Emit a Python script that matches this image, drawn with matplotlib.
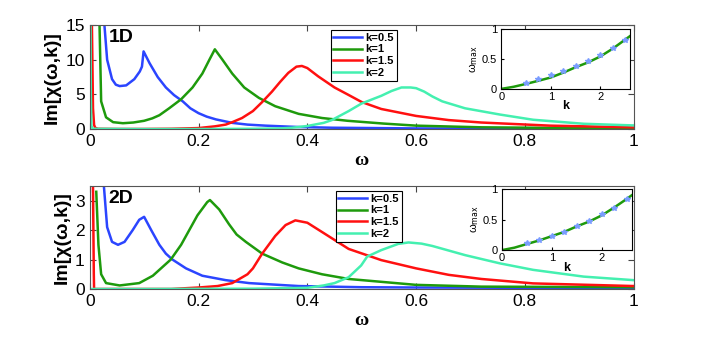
import matplotlib
matplotlib.use("Agg")
import matplotlib.pyplot as plt
import numpy as np

# ---- 1D panel data ----
w1_b = [0.027, 0.032, 0.041, 0.048, 0.055, 0.067, 0.082, 0.092, 0.096, 0.099, 0.11, 0.125, 0.14,
        0.155, 0.171, 0.185, 0.2, 0.215, 0.232, 0.262, 0.29, 0.323, 0.384, 0.445, 0.6, 0.8, 1.0]
v1_b = [15, 10, 7.2, 6.4, 6.2, 6.3, 7.2, 8.3, 9, 11.2, 9.5, 7.5, 6, 4.9, 4, 3.0, 2.3, 1.8, 1.4, 0.9,
        0.65, 0.5, 0.3, 0.2, 0.1, 0.07, 0.05]
w1_g = [0.018, 0.021, 0.03, 0.043, 0.061, 0.08, 0.1, 0.115, 0.128, 0.146, 0.168, 0.189, 0.207, 0.22,
        0.23, 0.244, 0.262, 0.284, 0.311, 0.341, 0.384, 0.427, 0.474, 0.54, 0.6, 0.72, 0.85, 1.0]
v1_g = [15, 4, 1.7, 1.0, 0.85, 0.95, 1.2, 1.55, 2, 3, 4.3, 6, 8, 10, 11.5, 10, 8, 6, 4.5, 3.3, 2.2,
        1.6, 1.2, 0.8, 0.5, 0.26, 0.18, 0.15]
w1_r = [0.004, 0.006, 0.008, 0.01, 0.015, 0.05, 0.1, 0.15, 0.2, 0.23, 0.25, 0.262, 0.28, 0.3, 0.317,
        0.335, 0.35, 0.365, 0.38, 0.39, 0.4, 0.42, 0.45, 0.474, 0.5, 0.536, 0.6, 0.66, 0.72, 0.846, 1.0]
v1_r = [15, 3, 0.6, 0.2, 0.05, 0.02, 0.02, 0.05, 0.15, 0.4, 0.65, 1.0, 1.6, 2.6, 3.9, 5.4, 6.8, 8.1,
        9.0, 9.1, 8.8, 7.6, 6.0, 5.0, 3.9, 2.9, 1.9, 1.3, 0.95, 0.5, 0.25]
w1_c = [0.0015, 0.002, 0.003, 0.005, 0.1, 0.2, 0.3, 0.35, 0.372, 0.4, 0.43, 0.445, 0.476, 0.5,
        0.536, 0.555, 0.573, 0.59, 0.6, 0.615, 0.63, 0.648, 0.69, 0.754, 0.815, 0.908, 1.0]
v1_c = [15, 5, 0.5, 0.05, 0.01, 0.01, 0.05, 0.1, 0.2, 0.45, 0.9, 1.3, 2.6, 3.7, 4.8, 5.5, 6.0, 6.0,
        5.9, 5.4, 4.7, 4.0, 3.0, 2.1, 1.35, 0.77, 0.53]

# ---- 2D panel data ----
w2_b = [0.026, 0.032, 0.041, 0.052, 0.064, 0.079, 0.091, 0.1, 0.113, 0.128, 0.14, 0.152, 0.177,
        0.207, 0.25, 0.293, 0.384, 0.5, 0.6, 0.8, 1.0]
v2_b = [3.5, 2.1, 1.6, 1.5, 1.6, 2.0, 2.35, 2.45, 2.0, 1.5, 1.2, 1.0, 0.7, 0.45, 0.3, 0.2, 0.1,
        0.06, 0.05, 0.04, 0.03]
w2_g = [0.012, 0.016, 0.021, 0.03, 0.055, 0.091, 0.116, 0.149, 0.168, 0.183, 0.198, 0.216, 0.221,
        0.238, 0.256, 0.27, 0.287, 0.317, 0.354, 0.384, 0.427, 0.476, 0.6, 0.72, 1.0]
v2_g = [3.3, 1.5, 0.5, 0.2, 0.12, 0.2, 0.45, 1.0, 1.5, 2.0, 2.5, 2.95, 3.02, 2.7, 2.2, 1.85, 1.6, 1.2,
        0.9, 0.7, 0.5, 0.34, 0.14, 0.08, 0.06]
w2_r = [0.0055, 0.006, 0.0075, 0.008, 0.05, 0.15, 0.2, 0.235, 0.262, 0.29, 0.3, 0.317, 0.341, 0.36,
        0.378, 0.4, 0.43, 0.476, 0.536, 0.6, 0.66, 0.72, 0.815, 1.0]
v2_r = [3.6, 3.5, 0.5, 0.0, 0.0, 0.0, 0.05, 0.1, 0.2, 0.5, 0.7, 1.2, 1.8, 2.17, 2.33, 2.25, 1.9,
        1.36, 0.98, 0.7, 0.48, 0.34, 0.19, 0.1]
w2_c = [0.0, 0.1, 0.3, 0.4, 0.43, 0.45, 0.476, 0.499, 0.51, 0.536, 0.567, 0.586, 0.61, 0.63, 0.69,
        0.754, 0.815, 0.908, 1.0]
v2_c = [0.0, 0.0, 0.01, 0.04, 0.12, 0.2, 0.4, 0.8, 1.1, 1.32, 1.53, 1.58, 1.54, 1.46, 1.15, 0.87,
        0.65, 0.42, 0.3]

labels = ["k=0.5", "k=1", "k=1.5", "k=2"]
colors = ["#2b45ff", "#1e9a0c", "#ff1010", "#44f0b0"]

# ---- insets: omega_max vs k ----
k_line = [0, 0.25, 0.5, 0.75, 1, 1.25, 1.5, 1.75, 2, 2.25, 2.5, 2.6]
wmax1_line = [0, 0.035, 0.083, 0.135, 0.19, 0.27, 0.36, 0.44, 0.54, 0.67, 0.82, 0.88]
wmax2_line = [0, 0.04, 0.1, 0.16, 0.23, 0.3, 0.39, 0.47, 0.57, 0.7, 0.84, 0.9]
k_pts = [0.5, 0.75, 1, 1.25, 1.5, 1.75, 2, 2.25, 2.5]
wmax1_pts = [0.1, 0.17, 0.23, 0.3, 0.38, 0.47, 0.56, 0.68, 0.81]
wmax2_pts = [0.12, 0.17, 0.24, 0.3, 0.39, 0.48, 0.59, 0.7, 0.84]

plt.rcParams['font.family'] = ['Liberation Sans', 'DejaVu Sans']

fig = plt.figure(figsize=(7.01, 3.38), dpi=100)

panels = [
    ([0.128, 0.618, 0.776, 0.308], [0.715, 0.737, 0.184, 0.178], "1D", 15, [0, 5, 10, 15],
     [(w1_b, v1_b), (w1_g, v1_g), (w1_r, v1_r), (w1_c, v1_c)], wmax1_line, wmax1_pts, (0.443, 0.952)),
    ([0.128, 0.145, 0.776, 0.305], [0.716, 0.260, 0.185, 0.180], "2D", 3.5, [0, 1, 2, 3],
     [(w2_b, v2_b), (w2_g, v2_g), (w2_r, v2_r), (w2_c, v2_c)], wmax2_line, wmax2_pts, (0.452, 0.951)),
]

for rect, irect, name, ytop, yt, curves, wl, wp, lpos in panels:
    ax = fig.add_axes(rect)
    for (w, v), c, lab in zip(curves, colors, labels):
        ax.plot(w, v, color=c, lw=1.8, label=lab)
    ax.set_xlim(0, 1)
    ax.set_ylim(0, ytop)
    ax.set_yticks(yt)
    ax.set_xticks([0, 0.2, 0.4, 0.6, 0.8, 1])
    ax.set_xticklabels(["0", "0.2", "0.4", "0.6", "0.8", "1"])
    ax.tick_params(direction='in', top=True, right=True, labelsize=12.5, length=4, color='#444444')
    for s in ax.spines.values():
        s.set_color('#555555')
    ax.set_ylabel("Im[χ(ω,k)]", fontsize=14, fontweight='bold', labelpad=3)
    ax.set_xlabel("ω", fontsize=14, fontweight='bold', family='Liberation Serif', labelpad=2)
    ax.text(0.035, 0.88, name, transform=ax.transAxes, fontsize=14, fontweight='bold', va='center')
    leg = ax.legend(loc='upper left', bbox_to_anchor=lpos, fontsize=8, handlelength=2.6,
                    labelspacing=0.15, borderpad=0.25, handletextpad=0.3, fancybox=False,
                    framealpha=1, edgecolor='black', borderaxespad=0)
    for t in leg.get_texts():
        t.set_fontweight('bold')
    leg.get_frame().set_linewidth(0.8)

    ins = fig.add_axes(irect)
    ins.plot(k_line, wl, color="#1e9a0c", lw=1.8)
    ins.plot(k_pts, wp, linestyle='none', marker='*', ms=4, color='#7a9cff')
    ins.set_xlim(0, 2.6)
    ins.set_ylim(0, 1)
    ins.set_xticks([0, 1, 2])
    ins.set_yticks([0, 0.5, 1])
    ins.set_yticklabels(["0", "0.5", "1"])
    ins.tick_params(direction='in', labelsize=8, length=2)
    ins.tick_params(axis='x', pad=2)
    ins.tick_params(axis='y', pad=3)
    ins.set_xlabel("k", fontsize=9, fontweight='bold', labelpad=-1)
    ins.set_ylabel(r"ω$_{\rm max}$", fontsize=8, labelpad=1)

fig.savefig("out.png", dpi=100)
